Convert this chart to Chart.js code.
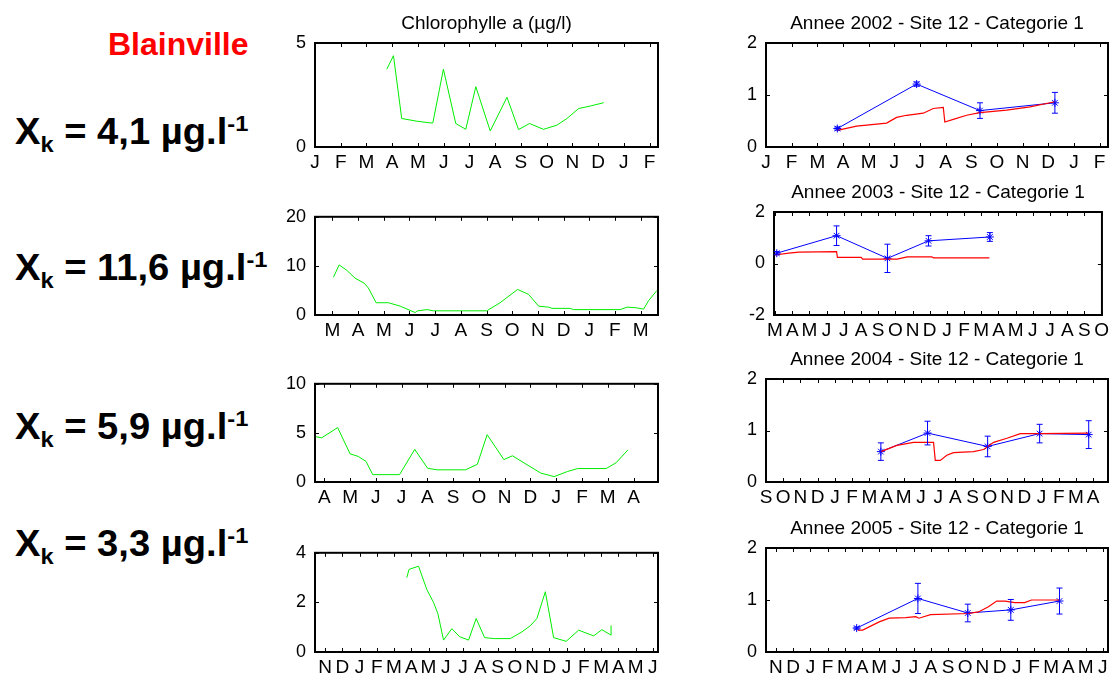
<!DOCTYPE html>
<html>
<head>
<meta charset="utf-8">
<script src="https://cdn.jsdelivr.net/npm/chart.js@4.4.1/dist/chart.umd.min.js"></script>
<style>
  html, body { margin: 0; padding: 0; background: #fff; overflow: hidden; }
  body { width: 1113px; height: 677px; position: relative; font-family: "Liberation Sans", Arial, sans-serif; }
  canvas { position: absolute; }
  .site { position: absolute; left: 108px; top: 28px; font-size: 32px; line-height: 32px; font-weight: bold; color: #ff0000; }
  .xk { position: absolute; left: 15px; font-size: 36px; line-height: 36px; font-weight: bold; color: #000; white-space: nowrap;
        transform: scaleX(1.06); transform-origin: left top; }
  .xk sub, .xk sup { font-size: 0.62em; line-height: 0; }
</style>
</head>
<body>

<div class="site">Blainville</div>
<div class="xk" style="top:114px">X<sub>k</sub> = 4,1 µg.l<sup>-1</sup></div>
<div class="xk" style="top:250px">X<sub>k</sub> = 11,6 µg.l<sup>-1</sup></div>
<div class="xk" style="top:409px">X<sub>k</sub> = 5,9 µg.l<sup>-1</sup></div>
<div class="xk" style="top:526px">X<sub>k</sub> = 3,3 µg.l<sup>-1</sup></div>

<canvas id="chl2002" width="398" height="169" style="left:270px;top:3px"></canvas>
<canvas id="mod2002" width="392" height="169" style="left:721px;top:3px"></canvas>
<canvas id="chl2003" width="398" height="143" style="left:270px;top:197px"></canvas>
<canvas id="mod2003" width="384" height="168" style="left:729px;top:172px"></canvas>
<canvas id="chl2004" width="398" height="143" style="left:270px;top:364px"></canvas>
<canvas id="mod2004" width="392" height="168" style="left:721px;top:339px"></canvas>
<canvas id="chl2005" width="398" height="144" style="left:270px;top:533px"></canvas>
<canvas id="mod2005" width="392" height="169" style="left:721px;top:508px"></canvas>

<script>
// month letters, tick value 0 = January of the panel's year
var MONTHS = ["J","F","M","A","M","J","J","A","S","O","N","D"];

// 2002 ..........................
var chl2002Month = [2.79, 3.05, 3.37, 3.96, 4.47, 4.58, 4.99, 5.47, 5.86, 6.25, 6.81, 7.46, 7.91, 8.34, 8.88, 9.40, 9.79, 10.25, 10.70, 11.22];
var chl2002Value = [3.74, 4.39, 1.37, 1.24, 1.16, 1.16, 3.74, 1.13, 0.85, 2.90, 0.77, 2.39, 0.84, 1.13, 0.85, 1.05, 1.37, 1.85, 1.97, 2.13];
var obs2002Month = [2.78, 5.87, 8.34, 11.26];
var obs2002Value = [0.355, 1.21, 0.70, 0.85];
var obs2002Err = [0.03, 0.04, 0.15, 0.2];
var mod2002Month = [2.78, 3.53, 4.70, 5.09, 5.48, 6.13, 6.52, 6.91, 6.97, 7.30, 7.82, 8.34, 9.38, 10.29, 11.26];
var mod2002Value = [0.32, 0.40, 0.46, 0.57, 0.61, 0.65, 0.74, 0.76, 0.48, 0.53, 0.61, 0.66, 0.71, 0.77, 0.87];

// 2003 ..........................
var chl2003Month = [2.04, 2.26, 2.56, 2.88, 3.23, 3.40, 3.70, 4.18, 4.64, 5.22, 5.32, 5.68, 5.94, 8.01, 8.53, 9.21, 9.64, 10.03, 10.42, 10.55, 11.26, 11.39, 13.21, 13.47, 13.79, 14.12, 14.31, 14.64];
var chl2003Value = [7.7, 10.2, 9.1, 7.5, 6.5, 5.5, 2.5, 2.5, 1.8, 0.5, 0.85, 1.1, 0.85, 0.85, 2.5, 5.2, 4.2, 1.8, 1.6, 1.35, 1.35, 1.1, 1.1, 1.6, 1.5, 1.2, 2.9, 5.0];
var obs2003Month = [2.10, 5.58, 8.54, 10.93, 14.50];
var obs2003Value = [0.40, 1.08, 0.20, 0.88, 1.03];
var obs2003Err = [0.06, 0.38, 0.55, 0.2, 0.17];
var mod2003Month = [2.00, 2.80, 3.38, 5.58, 5.63, 7.01, 7.10, 9.11, 9.69, 11.12, 11.22, 14.47];
var mod2003Value = [0.33, 0.40, 0.44, 0.46, 0.24, 0.24, 0.17, 0.17, 0.26, 0.26, 0.22, 0.22];

// 2004 ..........................
var chl2004Month = [2.64, 2.90, 3.52, 4.00, 4.32, 4.62, 4.88, 5.92, 6.51, 7.01, 7.38, 8.48, 8.94, 9.32, 9.97, 10.30, 10.75, 11.40, 11.92, 12.44, 12.83, 13.94, 14.32, 14.78];
var chl2004Value = [4.63, 4.50, 5.54, 2.87, 2.60, 2.10, 0.75, 0.75, 3.32, 1.40, 1.24, 1.24, 1.80, 4.82, 2.28, 2.67, 1.95, 0.91, 0.55, 1.07, 1.37, 1.37, 1.95, 3.26];
var obs2004Month = [2.67, 5.38, 8.87, 11.89, 14.74];
var obs2004Value = [0.59, 0.95, 0.69, 0.94, 0.92];
var obs2004Err = [0.17, 0.23, 0.2, 0.18, 0.27];
var mod2004Month = [2.67, 3.60, 4.57, 5.73, 5.83, 6.12, 6.50, 6.89, 8.05, 8.64, 9.22, 9.99, 10.77, 11.93, 14.74];
var mod2004Value = [0.59, 0.71, 0.77, 0.77, 0.42, 0.42, 0.52, 0.57, 0.59, 0.63, 0.77, 0.85, 0.94, 0.94, 0.95];

// 2005 ..........................
var chl2005Month = [2.74, 2.87, 3.42, 3.90, 4.29, 4.54, 4.87, 5.35, 5.80, 6.32, 6.76, 7.25, 7.81, 8.74, 9.41, 9.90, 10.28, 10.77, 11.25, 11.98, 12.70, 13.57, 14.05, 14.58, 14.58];
var chl2005Value = [3.00, 3.33, 3.46, 2.52, 2.00, 1.55, 0.48, 0.94, 0.62, 0.48, 1.35, 0.58, 0.54, 0.54, 0.81, 1.06, 1.35, 2.43, 0.58, 0.43, 0.88, 0.65, 0.90, 0.68, 1.07];
var obs2005Month = [2.69, 6.25, 9.15, 11.65, 14.48];
var obs2005Value = [0.46, 1.03, 0.75, 0.81, 0.98];
var obs2005Err = [0.02, 0.29, 0.17, 0.2, 0.25];
var mod2005Month = [2.75, 3.04, 4.00, 4.58, 5.54, 6.12, 6.31, 6.98, 9.19, 9.77, 10.35, 10.83, 11.31, 11.88, 12.46, 12.85, 14.48];
var mod2005Value = [0.42, 0.42, 0.58, 0.65, 0.66, 0.68, 0.65, 0.72, 0.74, 0.77, 0.87, 0.98, 0.98, 0.95, 0.95, 1.00, 1.00];

Chart.defaults.font.family = '"Liberation Sans", Arial, sans-serif';
Chart.defaults.color = "#000";

function pts(xs, ys) {
  return xs.map(function (v, i) { return { x: v, y: ys[i] }; });
}

// box + inward ticks, like the matlab axes
var boxPlugin = {
  id: "boxPlugin",
  afterDatasetsDraw: function (chart) {
    var ctx = chart.ctx, a = chart.chartArea, xs = chart.scales.x, ys = chart.scales.y;
    ctx.save();
    ctx.strokeStyle = "#000";
    ctx.lineWidth = 1;
    ctx.beginPath();
    xs.ticks.forEach(function (t) {
      var px = Math.round(xs.getPixelForValue(t.value)) + 0.5;
      ctx.moveTo(px, a.top); ctx.lineTo(px, a.top + 4);
      ctx.moveTo(px, a.bottom); ctx.lineTo(px, a.bottom - 4);
    });
    ys.ticks.forEach(function (t) {
      var py = Math.round(ys.getPixelForValue(t.value)) + 0.5;
      ctx.moveTo(a.left, py); ctx.lineTo(a.left + 4, py);
      ctx.moveTo(a.right, py); ctx.lineTo(a.right - 4, py);
    });
    ctx.stroke();
    ctx.lineWidth = 2;
    ctx.strokeRect(a.left, a.top, a.width, a.height);
    ctx.restore();
  }
};

// vertical error bars for datasets carrying an "errors" list
var errorBarPlugin = {
  id: "errorBarPlugin",
  afterDatasetsDraw: function (chart) {
    var ctx = chart.ctx, ys = chart.scales.y;
    chart.data.datasets.forEach(function (ds, i) {
      if (!ds.errors) return;
      var meta = chart.getDatasetMeta(i);
      ctx.save();
      ctx.strokeStyle = ds.borderColor;
      ctx.lineWidth = 1;
      meta.data.forEach(function (p, j) {
        var v = ds.data[j].y, e = ds.errors[j];
        var top = ys.getPixelForValue(v + e), bot = ys.getPixelForValue(v - e);
        ctx.beginPath();
        ctx.moveTo(p.x, top); ctx.lineTo(p.x, bot);
        ctx.moveTo(p.x - 3, top); ctx.lineTo(p.x + 3, top);
        ctx.moveTo(p.x - 3, bot); ctx.lineTo(p.x + 3, bot);
        ctx.stroke();
      });
      ctx.restore();
    });
  }
};

function panelOptions(xMin, xMax, yMin, yMax, yStep, title, padRight) {
  return {
    responsive: false,
    animation: false,
    devicePixelRatio: 1,
    events: [],
    layout: { padding: { top: title ? 9 : 15, right: padRight, left: 0, bottom: 0 } },
    plugins: {
      legend: { display: false },
      tooltip: { enabled: false },
      title: {
        display: !!title,
        text: title,
        fullSize: false,
        font: { size: 19, weight: "normal" },
        padding: { top: 0, bottom: 8.2 }
      }
    },
    scales: {
      x: {
        type: "linear",
        min: xMin,
        max: xMax,
        grid: { display: false, drawTicks: false },
        border: { display: false },
        afterBuildTicks: function (scale) {
          var t = [];
          for (var m = Math.ceil(xMin); m <= Math.floor(xMax); m++) t.push({ value: m });
          scale.ticks = t;
        },
        afterFit: function (scale) { scale.height = 25; },
        ticks: {
          autoSkip: false,
          maxRotation: 0,
          padding: 4,
          font: { size: 19 },
          callback: function (v) { return MONTHS[((v % 12) + 12) % 12]; }
        }
      },
      y: {
        min: yMin,
        max: yMax,
        grid: { display: false, drawTicks: false },
        border: { display: false },
        afterFit: function (scale) { scale.width = 45; },
        ticks: { stepSize: yStep, padding: 9, font: { size: 18 } }
      }
    }
  };
}

function chlChart(id, xs, ys, xMin, xMax, yMax, yStep, title) {
  return new Chart(document.getElementById(id), {
    type: "scatter",
    data: {
      datasets: [{
        data: pts(xs, ys),
        showLine: true,
        borderColor: "#00ee00",
        borderWidth: 1,
        pointRadius: 0
      }]
    },
    options: panelOptions(xMin, xMax, 0, yMax, yStep, title, 10),
    plugins: [boxPlugin]
  });
}

function modelChart(id, mx, my, ox, oy, oe, xMin, xMax, yMin, yMax, yStep, title) {
  return new Chart(document.getElementById(id), {
    type: "scatter",
    data: {
      datasets: [{
        data: pts(mx, my),
        showLine: true,
        borderColor: "#ff0000",
        borderWidth: 1.2,
        pointRadius: 0
      }, {
        data: pts(ox, oy),
        errors: oe,
        showLine: true,
        borderColor: "#0000ff",
        backgroundColor: "#0000ff",
        borderWidth: 1,
        pointStyle: "star",
        pointRadius: 4,
        pointBorderWidth: 1
      }]
    },
    options: panelOptions(xMin, xMax, yMin, yMax, yStep, title, 5),
    plugins: [boxPlugin, errorBarPlugin]
  });
}

chlChart("chl2002", chl2002Month, chl2002Value, 0, 13.33, 5, 5, "Chlorophylle a (µg/l)");
chlChart("chl2003", chl2003Month, chl2003Value, 1.32, 14.68, 20, 10, "");
chlChart("chl2004", chl2004Month, chl2004Value, 2.64, 15.95, 10, 5, "");
chlChart("chl2005", chl2005Month, chl2005Value, -2.58, 17.3, 4, 2, "");

modelChart("mod2002", mod2002Month, mod2002Value, obs2002Month, obs2002Value, obs2002Err, 0, 13.33, 0, 2, 1, "Annee 2002 - Site 12 - Categorie 1");
modelChart("mod2003", mod2003Month, mod2003Value, obs2003Month, obs2003Value, obs2003Err, 1.94, 21.02, -2, 2, 2, "Annee 2003 - Site 12 - Categorie 1");
modelChart("mod2004", mod2004Month, mod2004Value, obs2004Month, obs2004Value, obs2004Err, -4, 15.86, 0, 2, 1, "Annee 2004 - Site 12 - Categorie 1");
modelChart("mod2005", mod2005Month, mod2005Value, obs2005Month, obs2005Value, obs2005Err, -2.58, 17.3, 0, 2, 1, "Annee 2005 - Site 12 - Categorie 1");
</script>
</body>
</html>
